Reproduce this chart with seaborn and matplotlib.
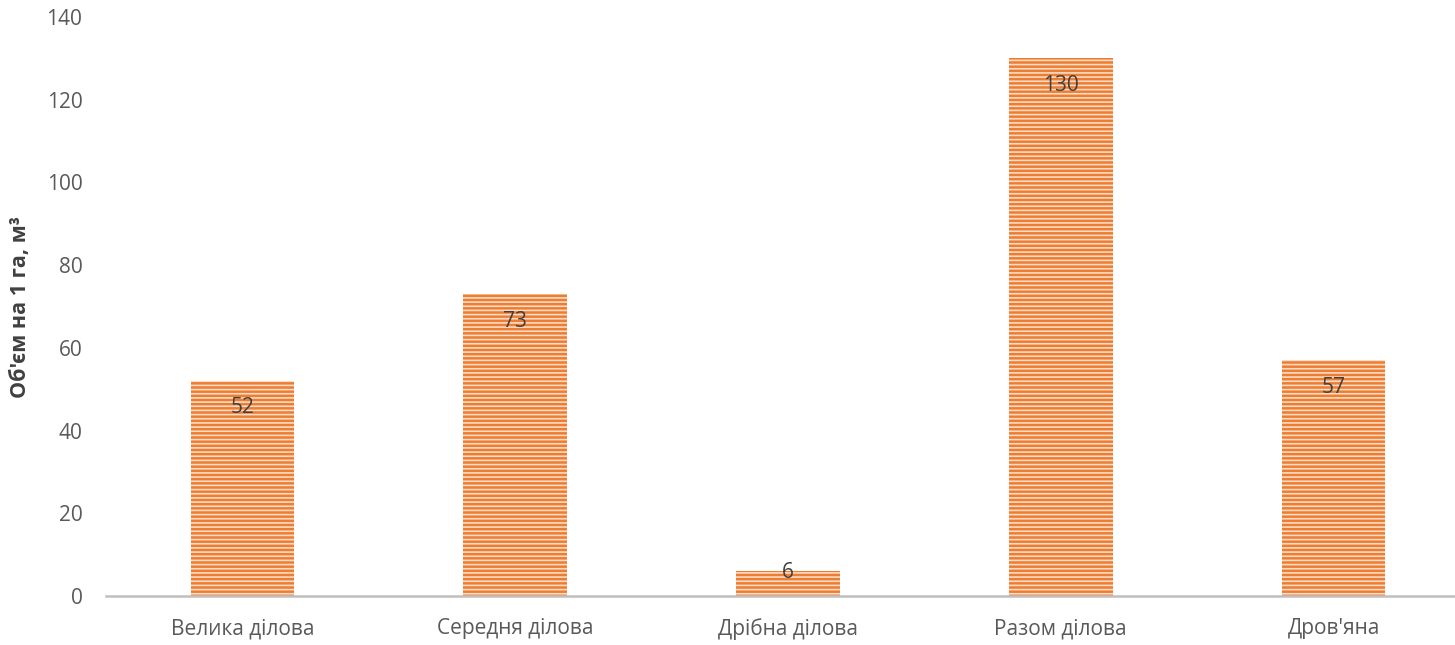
import matplotlib
matplotlib.use("Agg")
import matplotlib.pyplot as plt
import seaborn as sns
import pandas as pd

categories = ["Велика ділова", "Середня ділова", "Дрібна ділова", "Разом ділова", "Дров'яна"]
values = [52, 73, 6, 130, 57]
y_ticks = [0, 20, 40, 60, 80, 100, 120, 140]
y_label = "Об'єм на 1 га, м³"

sns.set_theme(style="white")
plt.rcParams["font.family"] = ["Open Sans", "DejaVu Sans"]
plt.rcParams["hatch.linewidth"] = 1.2
plt.rcParams["hatch.color"] = "#FCDCC6"

W, H, DPI = 1455, 645, 100
fig = plt.figure(figsize=(W / DPI, H / DPI), dpi=DPI)
ax_left, ax_right = 106, 1470
ax_top, ax_bottom = 17, 596
ax = fig.add_axes([ax_left / W, 1 - ax_bottom / H, (ax_right - ax_left) / W, (ax_bottom - ax_top) / H])

df = pd.DataFrame({"cat": categories, "val": values})
sns.barplot(data=df, x="cat", y="val", color="#ED7D31", width=0.38, ax=ax,
            saturation=1, edgecolor="#FCDCC6", linewidth=0)

for p in ax.patches:
    p.set_hatch("----")
    p.set_facecolor("#ED7D31")
    p.set_linewidth(0)

ax.set_ylim(0, 140)
ax.set_xlim(-0.5, 4.5)
ax.set_yticks(y_ticks)
ax.set_yticklabels([str(t) for t in y_ticks])
ax.tick_params(axis="both", length=0, labelsize=15, colors="#595959")
ax.tick_params(axis="x", pad=16)
ax.tick_params(axis="y", pad=17)
ax.set_xlabel("")
ax.set_ylabel(y_label, fontsize=15.5, fontweight="bold", color="#404040", labelpad=11)

for s in ["top", "right", "left"]:
    ax.spines[s].set_visible(False)
ax.spines["bottom"].set_color("#BFBFBF")
ax.spines["bottom"].set_linewidth(1.8)

# value labels just inside the bar tops
px_per_unit = (ax_bottom - ax_top) / 140
for i, v in enumerate(values):
    h_px = v * px_per_unit
    off = min(27, h_px - 24)
    ax.annotate(str(v), xy=(i, v), xytext=(0, -off), textcoords="offset pixels",
                ha="center", va="center", fontsize=15, color="#404040")

fig.savefig("out.png", dpi=DPI)
